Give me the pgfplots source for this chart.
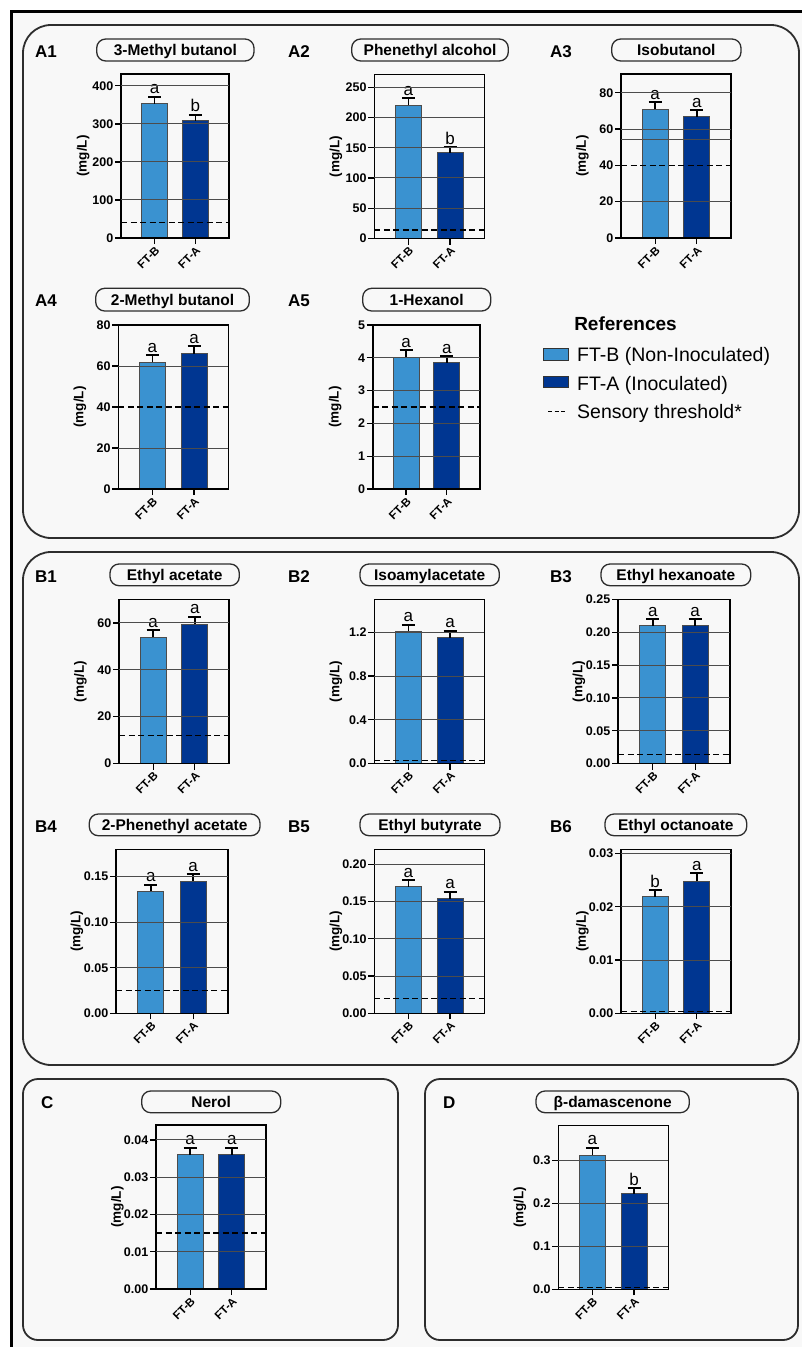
\documentclass[border=0pt]{standalone}
\usepackage{fontspec}
\setmainfont{Liberation Sans}
\usepackage{pgfplots}
\pgfplotsset{compat=1.18}
\definecolor{lb}{RGB}{58,146,208}
\definecolor{db}{RGB}{0,54,145}
\definecolor{panelbg}{RGB}{248,248,248}
\definecolor{pborder}{RGB}{45,45,45}
\newcommand{\tfont}{\bfseries\fontsize{12.5}{14}\selectfont}
\newcommand{\xfont}{\bfseries\fontsize{11.5}{13}\selectfont}
\newcommand{\yfont}{\bfseries\fontsize{13.5}{15}\selectfont}
\newcommand{\lfont}{\fontsize{17}{18}\selectfont}
\newcommand{\titlefont}{\bfseries\fontsize{15.5}{17}\selectfont}
\newcommand{\plabfont}{\bfseries\fontsize{17}{19}\selectfont}
\tikzset{lettr/.style={font=\lfont, anchor=south, inner sep=2.5pt}}
\pgfplotsset{
  vol/.style={
    scale only axis, width=110pt, height=164pt, anchor=south west,
    xmin=0.18, xmax=2.82, ymin=0,
    xtick={1,2}, xticklabels={FT-B,FT-A},
    scaled y ticks=false,
    tick pos=left, tick align=outside, major tick length=6pt,
    tick style={black, line width=1.3pt},
    axis line style={line width=1.6pt, black},
    axis on top, clip=false,
    y tick label style={font=\tfont, inner sep=1.5pt},
    x tick label style={rotate=45, anchor=north east, inner sep=1pt, font=\xfont},
    ylabel={(mg/L)},
    ylabel style={at={(axis description cs:-0.35,0.5)}, anchor=center, font=\yfont},
  },
  grids/.style={extra y ticks={#1}, extra y tick labels={},
    extra y tick style={grid=major, major tick length=0pt}},
  grid style={line width=1pt, black!70},
  barB/.style={ybar, bar shift=0pt, bar width=26pt, fill=lb, draw=black!70, line width=0.8pt,
    error bars/.cd, y dir=plus, y explicit,
    error bar style={line width=1.8pt, black},
    error mark options={rotate=90, mark size=6.5pt, line width=1.8pt, black}},
  barA/.style={ybar, bar shift=0pt, bar width=26pt, fill=db, draw=black!70, line width=0.8pt,
    error bars/.cd, y dir=plus, y explicit,
    error bar style={line width=1.8pt, black},
    error mark options={rotate=90, mark size=6.5pt, line width=1.8pt, black}},
  thr/.style={black, line width=1.3pt, dash pattern=on 6pt off 3.5pt},
}
\newcommand{\tbox}[5]{%
  \draw[pborder, line width=1.3pt, rounded corners=9pt] (#1,#2) rectangle (#3,#4);
  \node[font=\titlefont, anchor=base, inner sep=0pt] at ({(#1+#3)/2},{(#2+#4)/2+5.5}) {#5};}
\newcommand{\plab}[3]{\node[font=\plabfont, anchor=base west, inner sep=0pt] at (#1,#2) {#3};}
\begin{document}
\begin{tikzpicture}[x=1pt,y=-1pt]
\useasboundingbox (0,0) rectangle (802,1347);
\fill[panelbg] (11,11) rectangle (802,1347);
\draw[line width=3pt] (11,1347)--(11,11)--(802,11);
% panels
\draw[pborder, line width=1.8pt, rounded corners=28pt] (23,25) rectangle (799,538);
\draw[pborder, line width=1.8pt, rounded corners=28pt] (23,552) rectangle (799,1065);
\draw[pborder, line width=1.8pt, rounded corners=15pt] (23,1079) rectangle (398,1340);
\draw[pborder, line width=1.8pt, rounded corners=15pt] (425,1079) rectangle (798,1340);
% titles
\tbox{96.7}{39}{254}{61}{3-Methyl butanol}
\tbox{351.7}{39}{508.3}{61}{Phenethyl alcohol}
\tbox{611.7}{39}{741}{61}{Isobutanol}
\tbox{95.7}{288.3}{249.3}{311}{2-Methyl butanol}
\tbox{362.7}{288.3}{490.7}{311}{1-Hexanol}
\tbox{110}{564}{239.3}{585.7}{Ethyl acetate}
\tbox{360}{564}{499.3}{585.7}{Isoamylacetate}
\tbox{601}{564}{750.7}{585.7}{Ethyl hexanoate}
\tbox{89.3}{814}{260}{835.7}{2-Phenethyl acetate}
\tbox{360}{814}{500}{835.7}{Ethyl butyrate}
\tbox{605}{814}{746.7}{835.7}{Ethyl octanoate}
\tbox{141.7}{1091}{280.7}{1112.7}{Nerol}
\tbox{536}{1091}{689.3}{1112.7}{β-damascenone}
% panel labels
\plab{35}{57}{A1}\plab{288}{57}{A2}\plab{550}{57}{A3}
\plab{35}{306.5}{A4}\plab{288}{306.5}{A5}
\plab{35}{582}{B1}\plab{288}{582}{B2}\plab{550}{582}{B3}
\plab{35}{832}{B4}\plab{288}{832}{B5}\plab{550}{832}{B6}
\plab{41}{1108.5}{C}\plab{443}{1108.5}{D}
% legend
\node[font=\bfseries\fontsize{19}{21}\selectfont, anchor=base, inner sep=0pt] at (625.5,330.5) {References};
\draw[fill=lb, draw=black!80, line width=1pt] (543,348) rectangle (568,360);
\node[font=\fontsize{19.5}{21}\selectfont, anchor=base west, inner sep=0pt] at (577,361.5) {FT-B (Non-Inoculated)};
\draw[fill=db, draw=black!80, line width=1pt] (543,376) rectangle (568,387.5);
\node[font=\fontsize{19.5}{21}\selectfont, anchor=base west, inner sep=0pt] at (577,390) {FT-A (Inoculated)};
\draw[line width=1.3pt, dash pattern=on 4pt off 2.5pt] (548,411.5) -- (565,411.5);
\node[font=\fontsize{19.5}{21}\selectfont, anchor=base west, inner sep=0pt] at (577,418.5) {Sensory threshold*};
% ---------- A1
\begin{axis}[vol, at={(121pt,-238pt)}, width=108pt, ymax=431,
  ytick={0,100,200,300,400}, yticklabels={0,100,200,300,400}, grids={100,200,300,400}]
\addplot[barB] coordinates {(1,353) +- (0,18)};
\addplot[barA] coordinates {(2,308) +- (0,16)};
\addplot[thr] coordinates {(0.18,40) (2.82,40)};
\node[lettr] at (axis cs:1,371) {a};
\node[lettr] at (axis cs:2,324) {b};
\end{axis}
% ---------- A2
\begin{axis}[vol, at={(374.3pt,-238.5pt)}, ymax=271,
  ytick={0,50,100,150,200,250}, yticklabels={0,50,100,150,200,250}, grids={50,100,150,200,250}]
\addplot[barB] coordinates {(1,220) +- (0,12)};
\addplot[barA] coordinates {(2,142) +- (0,9)};
\addplot[thr] coordinates {(0.18,14) (2.82,14)};
\node[lettr] at (axis cs:1,232) {a};
\node[lettr] at (axis cs:2,151) {b};
\end{axis}
% ---------- A3
\begin{axis}[vol, at={(621pt,-238pt)}, ymax=90.3,
  ytick={0,20,40,60,80}, yticklabels={0,20,40,60,80}, grids={20,54,60,80}]
\addplot[barB] coordinates {(1,70.8) +- (0,3.9)};
\addplot[barA] coordinates {(2,66.7) +- (0,3.8)};
\addplot[thr] coordinates {(0.18,40) (2.82,40)};
\node[lettr] at (axis cs:1,74.7) {a};
\node[lettr] at (axis cs:2,70.5) {a};
\end{axis}
% ---------- A4
\begin{axis}[vol, at={(118.3pt,-489pt)}, ymax=80,
  ytick={0,20,40,60,80}, yticklabels={0,20,40,60,80}, grids={20,60}]
\addplot[barB] coordinates {(1,61.8) +- (0,3.4)};
\addplot[barA] coordinates {(2,66.0) +- (0,3.8)};
\addplot[thr] coordinates {(0.18,40) (2.82,40)};
\node[lettr] at (axis cs:1,65.2) {a};
\node[lettr] at (axis cs:2,69.8) {a};
\end{axis}
% ---------- A5
\begin{axis}[vol, at={(372.7pt,-489pt)}, width=107.5pt, ymax=5,
  ytick={0,1,2,3,4,5}, yticklabels={0,1,2,3,4,5}, grids={1,2,3,4}]
\addplot[barB] coordinates {(1,4.01) +- (0,0.23)};
\addplot[barA] coordinates {(2,3.85) +- (0,0.20)};
\addplot[thr] coordinates {(0.18,2.5) (2.82,2.5)};
\node[lettr] at (axis cs:1,4.24) {a};
\node[lettr] at (axis cs:2,4.05) {a};
\end{axis}
% ---------- B1
\begin{axis}[vol, at={(119pt,-763.5pt)}, ymax=70,
  ytick={0,20,40,60}, yticklabels={0,20,40,60}, grids={20,40,60}]
\addplot[barB] coordinates {(1,54.0) +- (0,3.0)};
\addplot[barA] coordinates {(2,59.4) +- (0,3.2)};
\addplot[thr] coordinates {(0.18,12.1) (2.82,12.1)};
\node[lettr] at (axis cs:1,57.0) {a};
\node[lettr] at (axis cs:2,62.6) {a};
\end{axis}
% ---------- B2
\begin{axis}[vol, at={(374.3pt,-763.5pt)}, ymax=1.5,
  ytick={0,0.4,0.8,1.2}, yticklabels={0.0,0.4,0.8,1.2}, grids={0.4,0.8,1.2}]
\addplot[barB] coordinates {(1,1.21) +- (0,0.06)};
\addplot[barA] coordinates {(2,1.15) +- (0,0.065)};
\addplot[thr] coordinates {(0.18,0.025) (2.82,0.025)};
\node[lettr] at (axis cs:1,1.27) {a};
\node[lettr] at (axis cs:2,1.215) {a};
\end{axis}
% ---------- B3
\begin{axis}[vol, at={(618pt,-763.5pt)}, width=112pt, ymax=0.25,
  ytick={0,0.05,0.1,0.15,0.2,0.25}, yticklabels={0.00,0.05,0.10,0.15,0.20,0.25}, grids={0.05,0.1,0.15,0.2}]
\addplot[barB] coordinates {(1,0.21) +- (0,0.01)};
\addplot[barA] coordinates {(2,0.21) +- (0,0.01)};
\addplot[thr] coordinates {(0.18,0.014) (2.82,0.014)};
\node[lettr] at (axis cs:1,0.22) {a};
\node[lettr] at (axis cs:2,0.22) {a};
\end{axis}
% ---------- B4
\begin{axis}[vol, at={(116pt,-1013.3pt)}, width=112pt, ymax=0.18,
  ytick={0,0.05,0.1,0.15}, yticklabels={0.00,0.05,0.10,0.15}, grids={0.05,0.1,0.15}]
\addplot[barB] coordinates {(1,0.134) +- (0,0.007)};
\addplot[barA] coordinates {(2,0.145) +- (0,0.008)};
\addplot[thr] coordinates {(0.18,0.025) (2.82,0.025)};
\node[lettr] at (axis cs:1,0.141) {a};
\node[lettr] at (axis cs:2,0.153) {a};
\end{axis}
% ---------- B5
\begin{axis}[vol, at={(374.3pt,-1013.3pt)}, ymax=0.22,
  ytick={0,0.05,0.1,0.15,0.2}, yticklabels={0.00,0.05,0.10,0.15,0.20}, grids={0.05,0.1,0.15,0.2}]
\addplot[barB] coordinates {(1,0.170) +- (0,0.009)};
\addplot[barA] coordinates {(2,0.154) +- (0,0.009)};
\addplot[thr] coordinates {(0.18,0.02) (2.82,0.02)};
\node[lettr] at (axis cs:1,0.179) {a};
\node[lettr] at (axis cs:2,0.163) {a};
\end{axis}
% ---------- B6
\begin{axis}[vol, at={(621pt,-1013.3pt)}, ymax=0.0308,
  ytick={0,0.01,0.02,0.03}, yticklabels={0.00,0.01,0.02,0.03}, grids={0.01,0.02,0.03}]
\addplot[barB] coordinates {(1,0.0219) +- (0,0.0012)};
\addplot[barA] coordinates {(2,0.0248) +- (0,0.0015)};
\addplot[thr] coordinates {(0.18,0.0004) (2.82,0.0004)};
\node[lettr] at (axis cs:1,0.0231) {b};
\node[lettr] at (axis cs:2,0.0263) {a};
\end{axis}
% ---------- C
\begin{axis}[vol, at={(156pt,-1289pt)}, ymax=0.044,
  ytick={0,0.01,0.02,0.03,0.04}, yticklabels={0.00,0.01,0.02,0.03,0.04}, grids={0.01,0.02,0.03,0.04}]
\addplot[barB] coordinates {(1,0.036) +- (0,0.0019)};
\addplot[barA] coordinates {(2,0.036) +- (0,0.0019)};
\addplot[thr] coordinates {(0.18,0.015) (2.82,0.015)};
\node[lettr] at (axis cs:1,0.0379) {a};
\node[lettr] at (axis cs:2,0.0379) {a};
\end{axis}
% ---------- D
\begin{axis}[vol, at={(558.3pt,-1289.3pt)}, ymax=0.381,
  ytick={0,0.1,0.2,0.3}, yticklabels={0.0,0.1,0.2,0.3}, grids={0.1,0.2,0.3}]
\addplot[barB] coordinates {(1,0.312) +- (0,0.017)};
\addplot[barA] coordinates {(2,0.222) +- (0,0.013)};
\addplot[thr] coordinates {(0.18,0.004) (2.82,0.004)};
\node[lettr] at (axis cs:1,0.329) {a};
\node[lettr] at (axis cs:2,0.235) {b};
\end{axis}
\end{tikzpicture}
\end{document}
